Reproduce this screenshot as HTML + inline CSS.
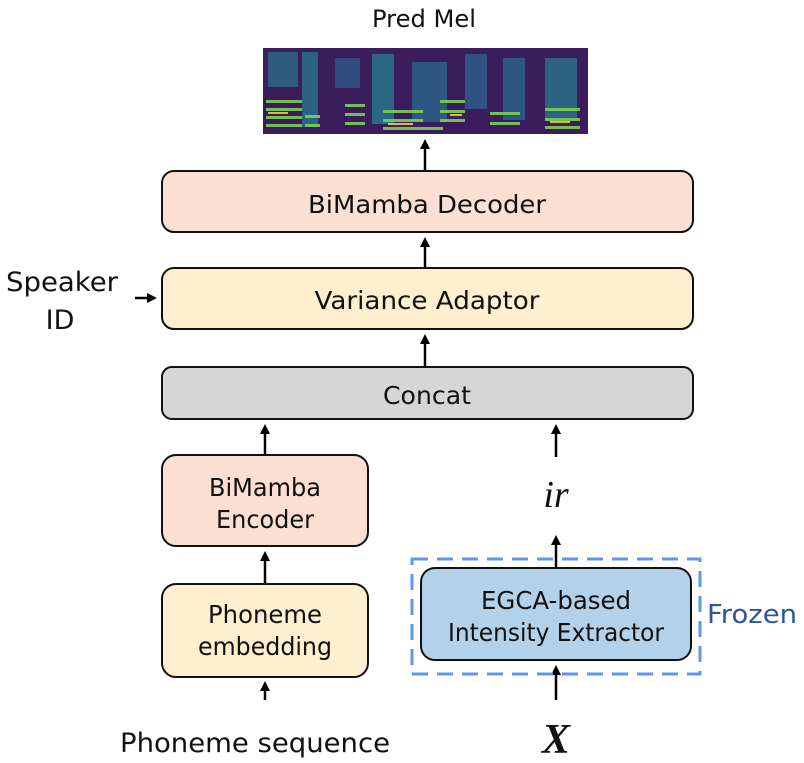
<!DOCTYPE html>
<html><head><meta charset="utf-8"><style>
html,body{margin:0;padding:0;background:#fff;}
svg{display:block;}
text{font-family:"DejaVu Sans","Liberation Sans",sans-serif;fill:#111;}
</style></head><body>
<svg width="804" height="763" viewBox="0 0 804 763" xmlns="http://www.w3.org/2000/svg">
<defs>
<marker id="ah" markerWidth="10" markerHeight="10" refX="5" refY="5" orient="auto" markerUnits="userSpaceOnUse" viewBox="0 0 10 10">
<path d="M0,0 L10,5 L0,10 z" fill="#000"/>
</marker>
</defs>

<text x="424" y="27" font-size="24" text-anchor="middle" textLength="104" lengthAdjust="spacingAndGlyphs">Pred Mel</text>

<!-- spectrogram -->
<rect x="263" y="48" width="325" height="86" fill="#3b1d5e"/>
<g opacity="0.75">
<rect x="268" y="52" width="30" height="35" fill="#2a6f8a"/>
<rect x="302" y="52" width="16" height="75" fill="#277a8e"/>
<rect x="335" y="58" width="25" height="30" fill="#2c5e8a"/>
<rect x="372" y="54" width="22" height="70" fill="#24808e"/>
<rect x="412" y="62" width="35" height="60" fill="#2a6a8e"/>
<rect x="465" y="54" width="22" height="55" fill="#2c648e"/>
<rect x="503" y="58" width="22" height="62" fill="#2a6a8e"/>
<rect x="545" y="58" width="32" height="62" fill="#277a8e"/>
</g>
<g fill="#7ad151" opacity="0.9">
<rect x="266" y="100" width="36" height="3"/><rect x="266" y="108" width="36" height="3"/><rect x="266" y="116" width="36" height="3"/><rect x="266" y="124" width="36" height="3"/>
<rect x="305" y="115" width="15" height="3"/><rect x="305" y="124" width="15" height="3"/>
<rect x="345" y="104" width="20" height="3"/><rect x="345" y="113" width="20" height="3"/><rect x="345" y="122" width="20" height="3"/>
<rect x="383" y="110" width="40" height="3"/><rect x="383" y="119" width="40" height="3"/><rect x="383" y="127" width="60" height="3"/>
<rect x="440" y="100" width="25" height="3"/><rect x="440" y="110" width="25" height="3"/><rect x="440" y="119" width="25" height="3"/>
<rect x="490" y="112" width="30" height="3"/><rect x="490" y="122" width="30" height="3"/>
<rect x="545" y="108" width="35" height="3"/><rect x="545" y="118" width="35" height="3"/><rect x="545" y="126" width="35" height="3"/>
</g>
<g fill="#fde725" opacity="0.8">
<rect x="268" y="112" width="20" height="2"/><rect x="388" y="123" width="25" height="2"/><rect x="550" y="121" width="20" height="2"/><rect x="450" y="114" width="12" height="2"/>
</g>

<g stroke="#000" stroke-width="2.5" fill="none">
<line x1="425" y1="170" x2="425" y2="144" marker-end="url(#ah)"/>
<line x1="425" y1="268" x2="425" y2="242" marker-end="url(#ah)"/>
<line x1="425" y1="367" x2="425" y2="339" marker-end="url(#ah)"/>
<line x1="135" y1="298" x2="152" y2="298" marker-end="url(#ah)"/>
<line x1="265" y1="455" x2="265" y2="429" marker-end="url(#ah)"/>
<line x1="556" y1="457" x2="556" y2="429" marker-end="url(#ah)"/>
<line x1="265" y1="584" x2="265" y2="556" marker-end="url(#ah)"/>
<line x1="556" y1="567" x2="556" y2="540" marker-end="url(#ah)"/>
<line x1="265" y1="700" x2="265" y2="686" marker-end="url(#ah)"/>
<line x1="556" y1="700" x2="556" y2="670" marker-end="url(#ah)"/>
</g>

<rect x="162" y="171" width="531" height="61" rx="12" fill="#fbdfd2" stroke="#111" stroke-width="2"/>
<text x="427" y="213" font-size="25" text-anchor="middle" textLength="238" lengthAdjust="spacingAndGlyphs">BiMamba Decoder</text>

<rect x="162" y="268" width="531" height="61" rx="12" fill="#fdefcf" stroke="#111" stroke-width="2"/>
<text x="427" y="309" font-size="25" text-anchor="middle" textLength="225" lengthAdjust="spacingAndGlyphs">Variance Adaptor</text>

<text x="62" y="291" font-size="27" text-anchor="middle" textLength="112" lengthAdjust="spacingAndGlyphs">Speaker</text>
<text x="60" y="329" font-size="27" text-anchor="middle">ID</text>

<rect x="162" y="367" width="531" height="52" rx="10" fill="#d6d6d6" stroke="#111" stroke-width="2"/>
<text x="427" y="404" font-size="25" text-anchor="middle" textLength="88" lengthAdjust="spacingAndGlyphs">Concat</text>

<rect x="162" y="455" width="206" height="91" rx="14" fill="#fbdfd2" stroke="#111" stroke-width="2"/>
<text x="265" y="496" font-size="25" text-anchor="middle" textLength="112" lengthAdjust="spacingAndGlyphs">BiMamba</text>
<text x="265" y="528" font-size="25" text-anchor="middle" textLength="98" lengthAdjust="spacingAndGlyphs">Encoder</text>

<rect x="162" y="584" width="206" height="93" rx="14" fill="#fdefcf" stroke="#111" stroke-width="2"/>
<text x="265" y="623" font-size="25" text-anchor="middle" textLength="114" lengthAdjust="spacingAndGlyphs">Phoneme</text>
<text x="265" y="655" font-size="25" text-anchor="middle" textLength="134" lengthAdjust="spacingAndGlyphs">embedding</text>

<text x="255" y="752" font-size="27" text-anchor="middle" textLength="270" lengthAdjust="spacingAndGlyphs">Phoneme sequence</text>

<text x="556" y="507" font-size="38" text-anchor="middle" font-style="italic" style="font-family:'Liberation Serif',serif">ir</text>

<rect x="412" y="559" width="288" height="115" fill="none" stroke="#5b97ee" stroke-width="3" stroke-dasharray="16,9"/>
<rect x="421" y="568" width="270" height="92" rx="14" fill="#b3d2e9" stroke="#111" stroke-width="2"/>
<text x="556" y="609" font-size="25" text-anchor="middle" textLength="150" lengthAdjust="spacingAndGlyphs">EGCA-based</text>
<text x="556" y="641" font-size="25" text-anchor="middle" textLength="216" lengthAdjust="spacingAndGlyphs">Intensity Extractor</text>
<text x="707" y="623" font-size="26" style="fill:#2f5597" textLength="90" lengthAdjust="spacingAndGlyphs">Frozen</text>

<text x="556" y="753" font-size="42" text-anchor="middle" font-style="italic" font-weight="bold" style="font-family:'Liberation Serif',serif">X</text>
</svg>
</body></html>
